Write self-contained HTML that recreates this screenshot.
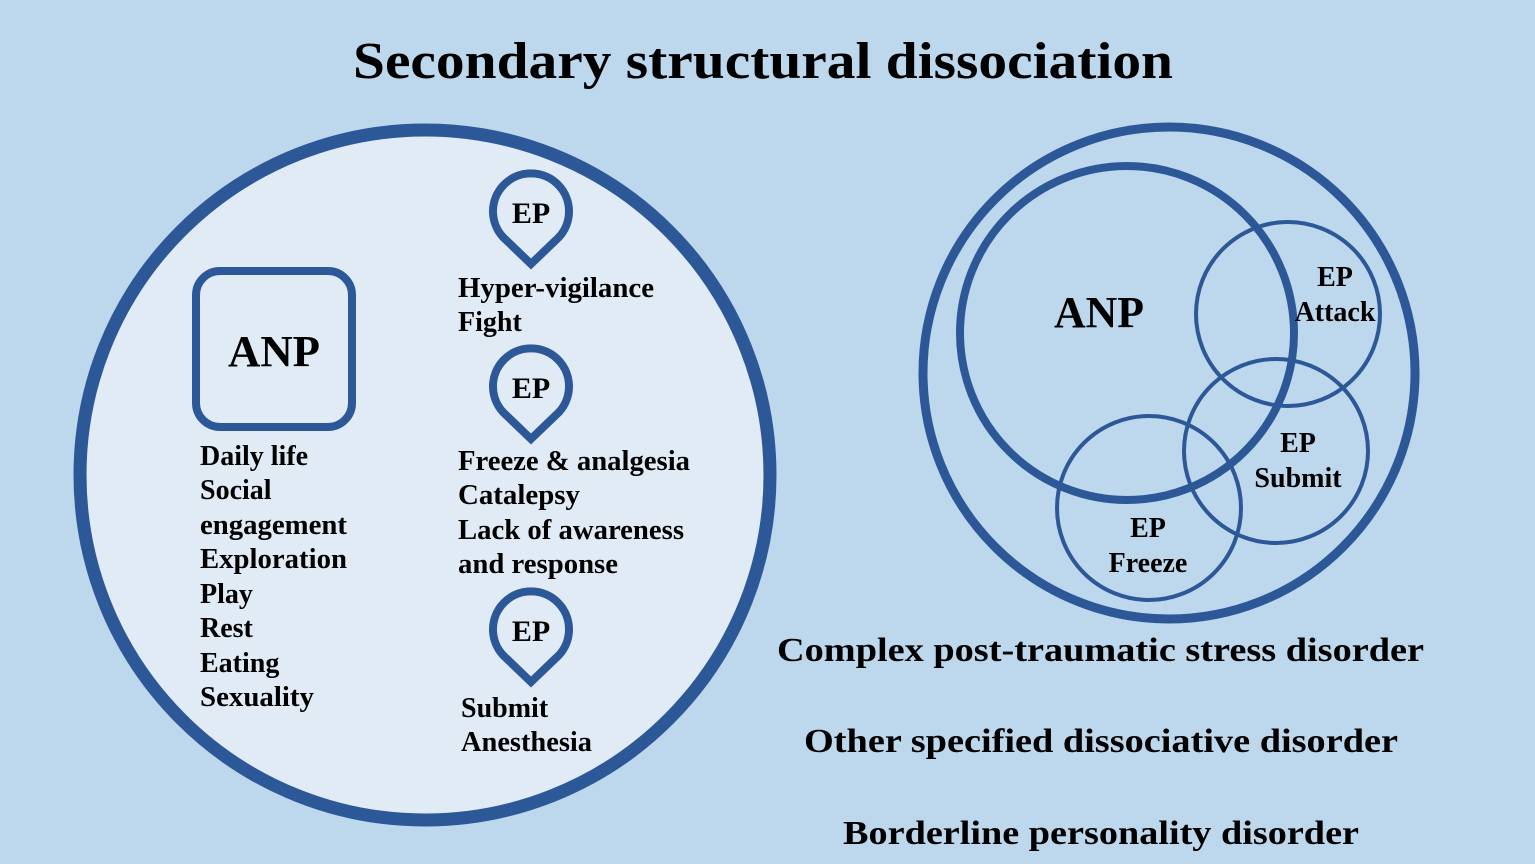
<!DOCTYPE html>
<html><head><style>html,body{margin:0;padding:0;background:#bdd7ec;}</style></head><body>
<svg width="1535" height="864" viewBox="0 0 1535 864" xmlns="http://www.w3.org/2000/svg" style="display:block">
<rect width="1535" height="864" fill="#bdd7ec"/>
<g font-family="Liberation Serif, serif" font-weight="bold" fill="#000">
<text x="353" y="78" font-size="52" textLength="820" lengthAdjust="spacingAndGlyphs">Secondary structural dissociation</text>
</g>
<circle cx="425" cy="475" r="345" fill="#e0ebf6" stroke="#2d5898" stroke-width="13"/>
<rect x="196" y="271" width="156" height="156" rx="24" fill="none" stroke="#2d5898" stroke-width="8"/>
<g fill="none" stroke="#2d5898" stroke-width="8">
<path d="M531 264 L506 240 A38 38 0 1 1 556 240 Z"/>
<path d="M531 439 L506 415 A38 38 0 1 1 556 415 Z"/>
<path d="M531 682 L506 658 A38 38 0 1 1 556 658 Z"/>
</g>
<circle cx="1169" cy="373" r="246" fill="none" stroke="#2d5898" stroke-width="9"/>
<circle cx="1127" cy="333" r="167" fill="none" stroke="#2d5898" stroke-width="8"/>
<circle cx="1288" cy="314" r="92" fill="none" stroke="#2d5898" stroke-width="4"/>
<circle cx="1276" cy="451" r="92" fill="none" stroke="#2d5898" stroke-width="4"/>
<circle cx="1149" cy="508" r="92" fill="none" stroke="#2d5898" stroke-width="4"/>
<g font-family="Liberation Serif, serif" font-weight="bold" fill="#000">
<text x="228" y="366" font-size="44" textLength="92" lengthAdjust="spacingAndGlyphs">ANP</text>
<g font-size="28">
<text x="200" y="465">Daily life</text>
<text x="200" y="499">Social</text>
<text x="200" y="534" textLength="147" lengthAdjust="spacingAndGlyphs">engagement</text>
<text x="200" y="568" textLength="147" lengthAdjust="spacingAndGlyphs">Exploration</text>
<text x="200" y="603">Play</text>
<text x="200" y="637">Rest</text>
<text x="200" y="672">Eating</text>
<text x="200" y="706" textLength="114" lengthAdjust="spacingAndGlyphs">Sexuality</text>
<text x="458" y="297" textLength="196" lengthAdjust="spacingAndGlyphs">Hyper-vigilance</text>
<text x="458" y="331">Fight</text>
<text x="458" y="470" textLength="232" lengthAdjust="spacingAndGlyphs">Freeze &amp; analgesia</text>
<text x="458" y="504" textLength="122" lengthAdjust="spacingAndGlyphs">Catalepsy</text>
<text x="458" y="539" textLength="226" lengthAdjust="spacingAndGlyphs">Lack of awareness</text>
<text x="458" y="573" textLength="160" lengthAdjust="spacingAndGlyphs">and response</text>
<text x="461" y="717">Submit</text>
<text x="461" y="751" textLength="131" lengthAdjust="spacingAndGlyphs">Anesthesia</text>
<text x="531" y="223" text-anchor="middle" font-size="30">EP</text>
<text x="531" y="398" text-anchor="middle" font-size="30">EP</text>
<text x="531" y="641" text-anchor="middle" font-size="30">EP</text>
<text x="1335" y="286" text-anchor="middle">EP</text>
<text x="1335" y="321" text-anchor="middle">Attack</text>
<text x="1298" y="452" text-anchor="middle">EP</text>
<text x="1298" y="487" text-anchor="middle">Submit</text>
<text x="1148" y="537" text-anchor="middle">EP</text>
<text x="1148" y="572" text-anchor="middle">Freeze</text>
</g>
<text x="1054" y="327" font-size="44" textLength="90" lengthAdjust="spacingAndGlyphs">ANP</text>
<g font-size="34">
<text x="777" y="661" textLength="647" lengthAdjust="spacingAndGlyphs">Complex post-traumatic stress disorder</text>
<text x="804" y="752" textLength="594" lengthAdjust="spacingAndGlyphs">Other specified dissociative disorder</text>
<text x="843" y="844" textLength="516" lengthAdjust="spacingAndGlyphs">Borderline personality disorder</text>
</g>
</g>
</svg>
</body></html>
